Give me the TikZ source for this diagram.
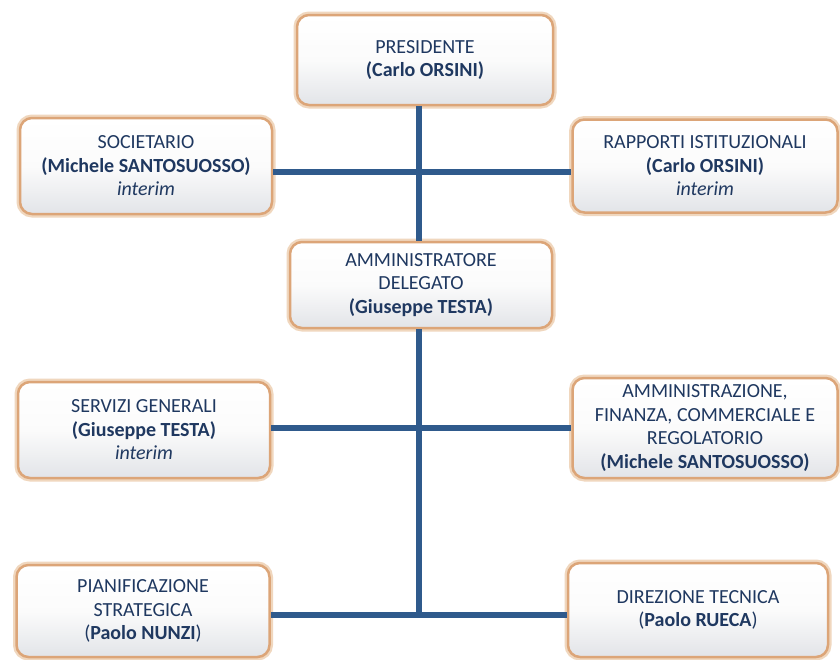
\documentclass[tikz,border=0pt]{standalone}
\usepackage{fontspec}
\setmainfont{Carlito}
\definecolor{txt}{RGB}{31,56,96}
\definecolor{ln}{RGB}{47,90,140}
\definecolor{brd}{RGB}{220,165,120}
\definecolor{glow}{RGB}{240,215,190}
\definecolor{fillbot}{RGB}{226,228,232}
\begin{document}
\begin{tikzpicture}[x=1pt,y=-1pt,
  box/.style={rectangle, rounded corners=12pt, align=center, text=txt,
    font=\fontsize{20}{23.5}\selectfont,
    top color=white, bottom color=fillbot, middle color=white!97!gray, draw=brd, line width=2.5pt,
    preaction={draw=glow, line width=7pt, rounded corners=12pt},
    inner sep=2pt},
  conn/.style={draw=ln, line width=6pt}]
\useasboundingbox (0,0) rectangle (840,659);
\fill[white] (0,0) rectangle (840,659);
\coordinate (spine) at (419,0);
\coordinate (l1) at (419,172);
\coordinate (l2) at (419,428);
\coordinate (l3) at (419,615);
\node[box, minimum width=256pt, minimum height=90pt] (pres) at (425,60) {PRESIDENTE\\\textbf{(Carlo ORSINI)}};
\node[box, minimum width=252pt, minimum height=96pt] (soc) at (146,166) {SOCIETARIO\\\textbf{(Michele SANTOSUOSSO)}\\\textit{interim}};
\node[box, minimum width=265pt, minimum height=93pt] (rap) at (705,166) {RAPPORTI ISTITUZIONALI\\\textbf{(Carlo ORSINI)}\\\textit{interim}};
\node[box, minimum width=262pt, minimum height=86pt] (ad) at (421,285) {AMMINISTRATORE\\DELEGATO\\\textbf{(Giuseppe TESTA)}};
\node[box, minimum width=252pt, minimum height=96pt] (serv) at (144,430) {SERVIZI GENERALI\\\textbf{(Giuseppe TESTA)}\\\textit{interim}};
\node[box, minimum width=265pt, minimum height=100pt] (amm) at (705,428) {AMMINISTRAZIONE,\\FINANZA, COMMERCIALE E\\REGOLATORIO\\\textbf{(Michele SANTOSUOSSO)}};
\node[box, minimum width=253pt, minimum height=92pt] (pian) at (143,611) {PIANIFICAZIONE\\STRATEGICA\\(\textbf{Paolo NUNZI})};
\node[box, minimum width=260pt, minimum height=94pt] (dir) at (698,610) {DIREZIONE TECNICA\\(\textbf{Paolo RUECA})};
\path[conn] (pres.south -| spine) -- (ad.north -| spine);
\path[conn] (ad.south -| spine) -- (l3);
\path[conn] (soc.east |- l1) -- (rap.west |- l1);
\path[conn] (serv.east |- l2) -- (amm.west |- l2);
\path[conn] (pian.east |- l3) -- (dir.west |- l3);
\end{tikzpicture}
\end{document}
